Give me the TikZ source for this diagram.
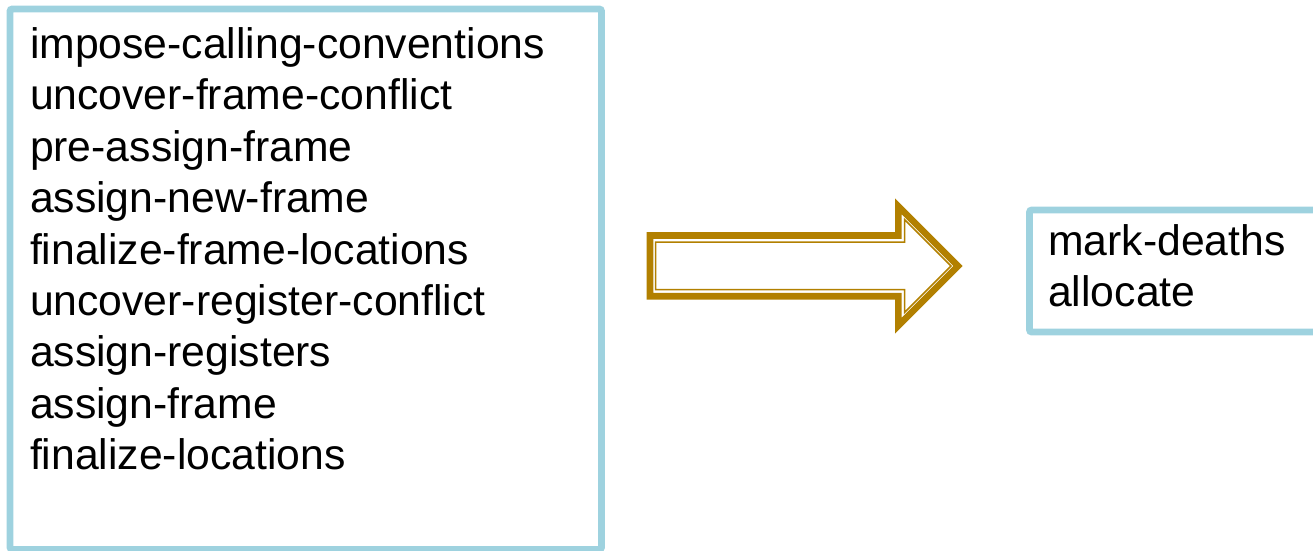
\documentclass[tikz,border=0pt]{standalone}
\usepackage{fontspec}
\setmainfont{Liberation Sans}
\definecolor{boxblue}{RGB}{158,210,223}
\definecolor{arrowgold}{RGB}{178,128,0}
\tikzset{
  panel/.style={draw=boxblue, line width=6.6pt, rounded corners=2pt},
  passtext/.style={anchor=base west, inner sep=0pt, font=\fontsize{42.7}{51}\selectfont, text=black},
  arrowthick/.style={draw=arrowgold, line width=6.6pt, miter limit=10},
  arrowthin/.style={draw=arrowgold, line width=1.5pt, miter limit=10}
}
\begin{document}
\begin{tikzpicture}[x=1pt,y=-1pt]
\useasboundingbox (0,0) rectangle (1313,550);
% left box
\draw[panel] (10,9) rectangle (601.5,549.5);
\foreach \t [count=\i] in {impose-calling-conventions,uncover-frame-conflict,pre-assign-frame,assign-new-frame,finalize-frame-locations,uncover-register-conflict,assign-registers,assign-frame,finalize-locations}{
  \node[passtext] (l\i) at (29.8,{58.5+(\i-1)*51.4}) {\t};
}
% right box
\draw[panel] (1029.5,210) rectangle (1325,332);
\node[passtext] (r1) at (1048,255.5) {mark-deaths};
\node[passtext] (r2) at (1048,306.5) {allocate};
% block arrow (thick-thin compound outline)
\draw[arrowthick] (650,235.5) -- (898.3,235.5) -- (898.3,206.3) -- (958,266) -- (898.3,325.7) -- (898.3,296.2) -- (650,296.2) -- cycle;
\draw[arrowthin] (655.7,242) -- (904.5,242) -- (904.5,219.5) -- (951,266) -- (904.5,312.5) -- (904.5,289.5) -- (655.7,289.5) -- cycle;
\end{tikzpicture}
\end{document}
